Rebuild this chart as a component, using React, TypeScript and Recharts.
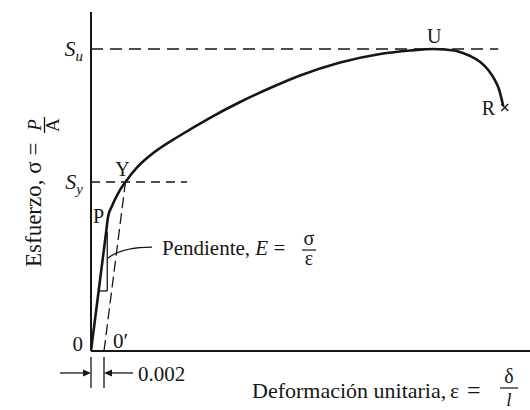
import React from 'react';
import {
  ComposedChart,
  Line,
  XAxis,
  YAxis,
  ReferenceLine,
  ReferenceDot,
  Label,
} from 'recharts';

// Engineering stress–strain curve of a ductile steel (strain, stress in MPa)
const strainValues = [
  0, 0.00231, 0.00262, 0.00323, 0.00415, 0.0053, 0.00708, 0.00908, 0.01369,
  0.01831, 0.02292, 0.02754, 0.03215, 0.03831, 0.04446, 0.04908, 0.05262,
  0.05446, 0.05646, 0.05831, 0.05985, 0.06108, 0.062, 0.06277, 0.06338,
];
const stressValues = [
  0, 156.3, 177.5, 192.1, 208.6, 223.8, 243.1, 258.9, 285.4, 308.9, 329.8,
  348.3, 364.9, 382.1, 393.4, 398.0, 400, 399.3, 396.7, 390.7, 382.8, 372.2,
  360.3, 345.7, 324.5,
];

const yieldStrength = 223.8; // S_y
const ultimateStrength = 400; // S_u
const offsetStrain = 0.002;
const strainMax = 0.0675;
const stressMax = 449;

// Landmarks: proportional limit, yield, ultimate, rupture
const landmarkNames = ['P', 'Y', 'U', 'R'];
const landmarkStrain = [0.00231, 0.0053, 0.05262, 0.06338];
const landmarkStress = [156.3, 223.8, 400, 324.5];

// Where the dashed strength guides stop
const yieldGuideEnd = 0.01477;
const ultimateGuideEnd = 0.06262;

// Slope triangle on the elastic segment
const slopeTriangleStrain = [0.00118, 0.0025];
const slopeTriangleStress = [79.5, 158];

// Leader from the slope triangle to its caption
const leaderStrain = [0.00262, 0.00938];
const leaderStress = [123.2, 137.7];

// Offset dimension below the axis: tick top, tick bottom, arrow level
const dimStress = [-7.9, -49, -29.1];
const dimArrowStrain = [-0.00477, 0.00646];

const curveData = strainValues.map((s, i) => ({ strain: s, stress: stressValues[i] }));

const FONT = '"Liberation Serif", "Times New Roman", serif';
const INK = '#161616';

const labelPlacement: Record<string, { dx: number; dy: number; anchor: 'start' | 'middle' | 'end' }> = {
  P: { dx: -13, dy: -10, anchor: 'start' },
  Y: { dx: -3, dy: -6, anchor: 'middle' },
  U: { dx: 1, dy: -6, anchor: 'middle' },
  R: { dx: -8, dy: 9, anchor: 'end' },
};

const YTick = (props: any) => {
  const { x, y, payload } = props;
  const v = payload.value;
  if (v === 0) {
    return (
      <text x={x} y={y} textAnchor="end" fontFamily={FONT} fontSize={21} fill={INK}>
        0
      </text>
    );
  }
  const sub = v === ultimateStrength ? 'u' : 'y';
  return (
    <text x={x} y={y + 7} textAnchor="end" fontFamily={FONT} fill={INK}>
      <tspan fontStyle="italic" fontSize={22}>S</tspan>
      <tspan fontStyle="italic" fontSize={15} dy={5}>{sub}</tspan>
    </text>
  );
};

const YLabel = (props: any) => {
  const vb = props.viewBox || { x: 0, y: 12, width: 91, height: 339 };
  const bx = vb.x + 41;
  const by = vb.y + 255;
  return (
    <g transform={`translate(${bx},${by}) rotate(-90)`} fontFamily={FONT} fill={INK}>
      <text x={0} y={0} fontSize={23}>Esfuerzo, σ =</text>
      <text x={142} y={0} fontSize={19} fontStyle="italic" textAnchor="middle">P</text>
      <line x1={134} x2={150} y1={3.5} y2={3.5} stroke={INK} strokeWidth={1.3} />
      <text x={142} y={18} fontSize={19} textAnchor="middle">A</text>
    </g>
  );
};

const XLabel = (props: any) => {
  const vb = props.viewBox || { x: 91, y: 351, width: 439, height: 59 };
  const x0 = vb.x + 161;
  const base = vb.y + 47;
  return (
    <g fontFamily={FONT} fill={INK}>
      <text x={x0} y={base} fontSize={22}>Deformación unitaria,</text>
      <text x={x0 + 198} y={base} fontSize={22}>ε</text>
      <text x={x0 + 215} y={base} fontSize={24}>=</text>
      <text x={x0 + 257} y={base - 15} fontSize={20} textAnchor="middle">δ</text>
      <line x1={x0 + 248} x2={x0 + 266} y1={base - 10} y2={base - 10} stroke={INK} strokeWidth={1.2} />
      <text x={x0 + 257} y={base + 8} fontSize={19} fontStyle="italic" textAnchor="middle">l</text>
    </g>
  );
};

// Horizontal arrow whose head sits on the (x2, y2) end
const ArrowHeadEnd = (p: any) => {
  const { x1, y1, x2, y2 } = p;
  const dir = x2 > x1 ? 1 : -1;
  return (
    <g>
      <line x1={x1} y1={y1} x2={x2 - dir * 6} y2={y2} stroke={INK} strokeWidth={1.3} />
      <path d={`M${x2},${y2} L${x2 - dir * 8},${y2 - 3.5} L${x2 - dir * 8},${y2 + 3.5} Z`} fill={INK} />
    </g>
  );
};

// Arrow pointing back at the (x1, y1) end, with the offset value written after it
const ArrowHeadStart = (p: any) => {
  const { x1, y1, x2, y2 } = p;
  return (
    <g>
      <line x1={x1 + 6} y1={y1} x2={x2} y2={y2} stroke={INK} strokeWidth={1.3} />
      <path d={`M${x1},${y1} L${x1 + 8},${y1 - 3.5} L${x1 + 8},${y1 + 3.5} Z`} fill={INK} />
      <text x={x2 + 5} y={y2 + 8} fontFamily={FONT} fontSize={21} fill={INK}>
        {offsetStrain.toFixed(3)}
      </text>
    </g>
  );
};

const LeaderShape = (p: any) => {
  const { x1, y1, x2, y2 } = p;
  return (
    <path
      d={`M${x1},${y1} Q${x1 + 14},${y2} ${x2},${y2}`}
      fill="none"
      stroke={INK}
      strokeWidth={1.3}
    />
  );
};

const SlopeCaption = (p: any) => {
  const { cx, cy } = p;
  const fx = cx + 157;
  return (
    <g fontFamily={FONT} fill={INK}>
      <text x={cx + 10} y={cy + 8} fontSize={21}>
        Pendiente, <tspan fontStyle="italic">E</tspan> =
      </text>
      <text x={fx} y={cy - 2} fontSize={20} textAnchor="middle">σ</text>
      <line x1={fx - 7} x2={fx + 7} y1={cy + 3} y2={cy + 3} stroke={INK} strokeWidth={1.2} />
      <text x={fx} y={cy + 18} fontSize={20} textAnchor="middle">ε</text>
    </g>
  );
};

const LandmarkLabel = (name: string) => (p: any) => {
  const { cx, cy } = p;
  const place = labelPlacement[name];
  return (
    <g>
      <text
        x={cx + place.dx}
        y={cy + place.dy}
        textAnchor={place.anchor}
        fontFamily={FONT}
        fontSize={20}
        fill={INK}
      >
        {name}
      </text>
      {name === 'R' && (
        <g stroke={INK} strokeWidth={1.3}>
          <line x1={cx - 2} y1={cy - 2} x2={cx + 5} y2={cy + 5} />
          <line x1={cx - 2} y1={cy + 5} x2={cx + 5} y2={cy - 2} />
        </g>
      )}
    </g>
  );
};

const OffsetOriginLabel = (p: any) => (
  <text x={p.cx + 9} y={p.cy - 3} fontFamily={FONT} fontSize={21} fill={INK}>
    0′
  </text>
);

export default function App() {
  return (
    <div style={{ position: 'absolute', left: 0, top: 0, background: '#fff' }}>
      <ComposedChart
        width={530}
        height={410}
        data={curveData}
        margin={{ top: 12, right: 0, bottom: 0, left: 0 }}
      >
        <XAxis
          dataKey="strain"
          type="number"
          domain={[0, strainMax]}
          allowDataOverflow
          tick={false}
          tickLine={false}
          axisLine={{ stroke: INK, strokeWidth: 2 }}
          height={59}
        >
          <Label content={XLabel} />
        </XAxis>
        <YAxis
          type="number"
          domain={[0, stressMax]}
          allowDataOverflow
          ticks={[0, yieldStrength, ultimateStrength]}
          tick={YTick}
          tickLine={false}
          axisLine={{ stroke: INK, strokeWidth: 2 }}
          width={91}
        >
          <Label content={YLabel} />
        </YAxis>

        {/* Strength guides */}
        <ReferenceLine
          segment={[{ x: 0, y: ultimateStrength }, { x: ultimateGuideEnd, y: ultimateStrength }]}
          stroke={INK}
          strokeWidth={1.4}
          strokeDasharray="12 7"
          ifOverflow="visible"
        />
        <ReferenceLine
          segment={[{ x: 0, y: yieldStrength }, { x: yieldGuideEnd, y: yieldStrength }]}
          stroke={INK}
          strokeWidth={1.4}
          strokeDasharray="9 6"
          ifOverflow="visible"
        />

        {/* 0.2 % offset line, parallel to the elastic segment */}
        <ReferenceLine
          segment={[{ x: offsetStrain, y: 0 }, { x: landmarkStrain[1], y: landmarkStress[1] }]}
          stroke={INK}
          strokeWidth={1.3}
          strokeDasharray="11 5"
          ifOverflow="visible"
        />

        {/* Slope triangle */}
        <ReferenceLine
          segment={[
            { x: slopeTriangleStrain[0], y: slopeTriangleStress[0] },
            { x: slopeTriangleStrain[1], y: slopeTriangleStress[0] },
          ]}
          stroke={INK}
          strokeWidth={1.3}
          ifOverflow="visible"
        />
        <ReferenceLine
          segment={[
            { x: slopeTriangleStrain[1], y: slopeTriangleStress[0] },
            { x: slopeTriangleStrain[1], y: slopeTriangleStress[1] },
          ]}
          stroke={INK}
          strokeWidth={1.3}
          ifOverflow="visible"
        />
        <ReferenceLine
          segment={[
            { x: leaderStrain[0], y: leaderStress[0] },
            { x: leaderStrain[1], y: leaderStress[1] },
          ]}
          shape={LeaderShape}
          ifOverflow="visible"
        />
        <ReferenceDot
          x={leaderStrain[1]}
          y={leaderStress[1]}
          r={0}
          shape={SlopeCaption}
          ifOverflow="visible"
        />

        {/* Offset dimension under the axis */}
        <ReferenceLine
          segment={[{ x: 0, y: dimStress[0] }, { x: 0, y: dimStress[1] }]}
          stroke={INK}
          strokeWidth={1.3}
          ifOverflow="visible"
        />
        <ReferenceLine
          segment={[{ x: offsetStrain, y: dimStress[0] }, { x: offsetStrain, y: dimStress[1] }]}
          stroke={INK}
          strokeWidth={1.3}
          ifOverflow="visible"
        />
        <ReferenceLine
          segment={[{ x: dimArrowStrain[0], y: dimStress[2] }, { x: 0, y: dimStress[2] }]}
          shape={ArrowHeadEnd}
          ifOverflow="visible"
        />
        <ReferenceLine
          segment={[{ x: offsetStrain, y: dimStress[2] }, { x: dimArrowStrain[1], y: dimStress[2] }]}
          shape={ArrowHeadStart}
          ifOverflow="visible"
        />
        <ReferenceDot x={offsetStrain} y={0} r={0} shape={OffsetOriginLabel} ifOverflow="visible" />

        <Line
          dataKey="stress"
          type="monotone"
          stroke={INK}
          strokeWidth={2.6}
          dot={false}
          activeDot={false}
          isAnimationActive={false}
        />

        {landmarkNames.map((name, i) => (
          <ReferenceDot
            key={name}
            x={landmarkStrain[i]}
            y={landmarkStress[i]}
            r={0}
            shape={LandmarkLabel(name)}
            ifOverflow="visible"
          />
        ))}
      </ComposedChart>
    </div>
  );
}
